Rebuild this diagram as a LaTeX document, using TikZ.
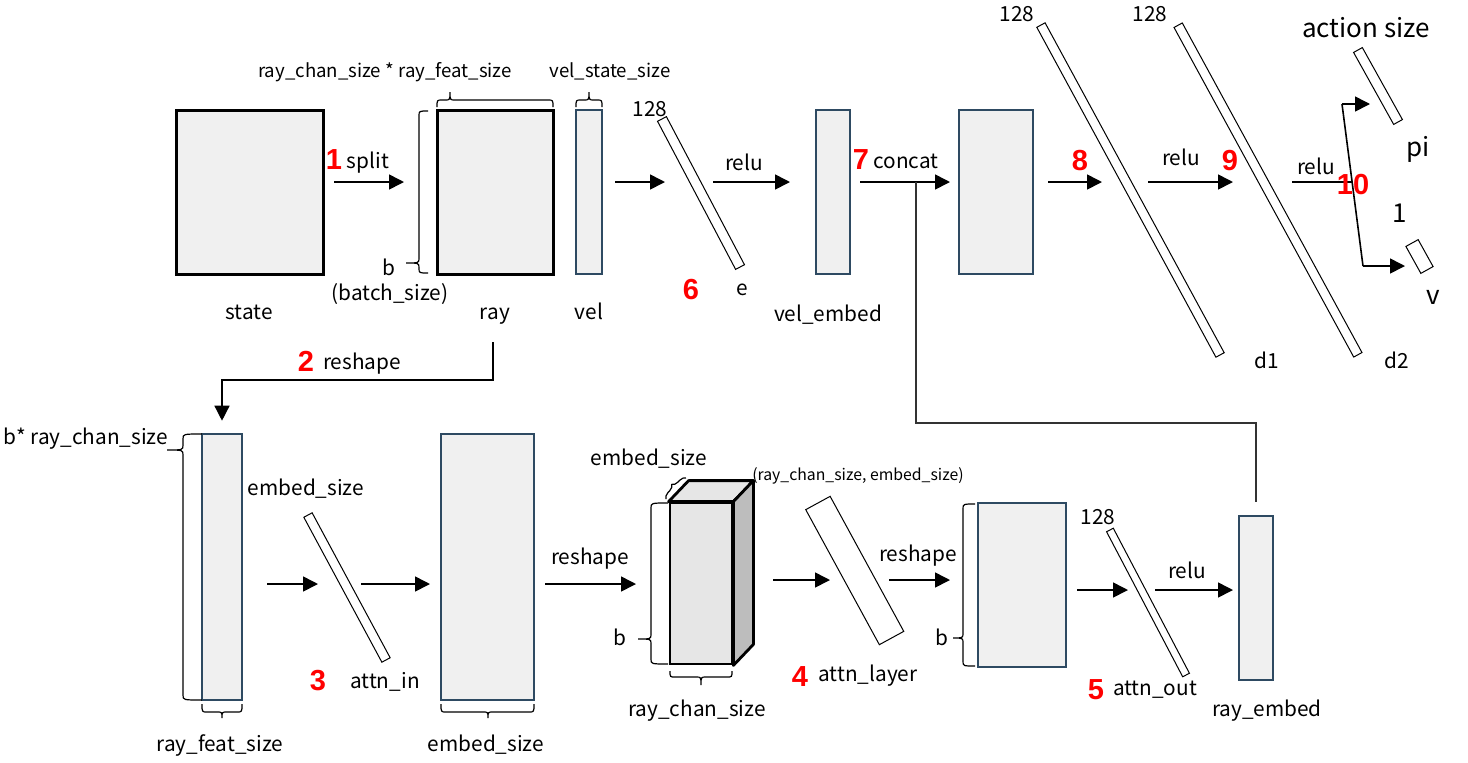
\documentclass[tikz,border=0pt]{standalone}
\usepackage{fontspec}
\setmainfont{Noto Sans CJK SC}
\newfontfamily\numfont{Liberation Sans}
\usetikzlibrary{arrows.meta,decorations.pathreplacing,calc}
\definecolor{boxedge}{HTML}{2E4A62}
\definecolor{boxfill}{HTML}{F0F0F0}
\definecolor{numred}{HTML}{FF0000}
\definecolor{cubefront}{HTML}{E6E6E6}
\definecolor{cubeside}{HTML}{BDBDBD}
% horizontal brace: y0, xleft, xright, arm offset, tip offset, xtip (offsets signed, px, y down)
\newcommand{\HBrc}[6]{%
  \draw[brc] ({#2},{#1}) .. controls ({#2},{#1+#4}) .. ({#2+5},{#1+#4}) -- ({#6-5},{#1+#4})
    .. controls ({#6},{#1+#4}) .. ({#6},{#1+#5}) .. controls ({#6},{#1+#4}) .. ({#6+5},{#1+#4})
    -- ({#3-5},{#1+#4}) .. controls ({#3},{#1+#4}) .. ({#3},{#1});}
% vertical brace: x0, ytop, ybottom, arm offset, tip offset, ytip
\newcommand{\VBrc}[6]{%
  \draw[brc] ({#1},{#2}) .. controls ({#1+#4},{#2}) .. ({#1+#4},{#2+5}) -- ({#1+#4},{#6-5})
    .. controls ({#1+#4},{#6}) .. ({#1+#5},{#6}) .. controls ({#1+#4},{#6}) .. ({#1+#4},{#6+5})
    -- ({#1+#4},{#3-5}) .. controls ({#1+#4},{#3}) .. ({#1},{#3});}
\begin{document}
\begin{tikzpicture}[x=0.5pt,y=-0.5pt,
  blk/.style={draw=black, line width=1.5pt, fill=boxfill, inner sep=0pt},
  sbox/.style={draw=boxedge, line width=1.3pt, fill=boxfill, inner sep=0pt},
  bar/.style={draw=black, line width=0.5pt, fill=white, inner sep=0pt},
  cubef/.style={draw=black, line width=1.4pt, fill=cubefront, inner sep=0pt},
  arr/.style={-{Triangle[length=7.5pt,width=7.5pt]}, line width=0.8pt},
  conn/.style={draw=black!80, line width=0.7pt},
  brc/.style={draw=black, line width=0.6pt},
  lbl/.style={font=\fontsize{10.4pt}{12pt}\selectfont, inner sep=0pt, anchor=mid, yshift=-1.5pt},
  slbl/.style={font=\fontsize{9.3pt}{11pt}\selectfont, inner sep=0pt, anchor=mid, yshift=-1pt},
  blbl/.style={font=\fontsize{13pt}{15pt}\selectfont, inner sep=0pt, anchor=mid, yshift=-1.5pt},
  tlbl/.style={font=\fontsize{7.9pt}{9pt}\selectfont, inner sep=0pt, anchor=mid, yshift=-1pt},
  num/.style={font=\numfont\bfseries\fontsize{14.5pt}{16pt}\selectfont, text=numred, inner sep=0pt, anchor=mid, yshift=-2pt}]
\fill[white] (0,0) rectangle (1468,762);
\useasboundingbox (0,0) rectangle (1468,762);

% ---------- boxes ----------
\node[blk, minimum width=73.5pt, minimum height=82pt] (state) at (249.5,192) {};
\node[blk, minimum width=58pt, minimum height=82pt] (ray) at (495,192) {};
\node[sbox, minimum width=13pt, minimum height=82pt] (vel) at (589,192) {};
\node[sbox, minimum width=17pt, minimum height=82pt] (velemb) at (833,192) {};
\node[sbox, minimum width=37pt, minimum height=82pt] (cat) at (996,192) {};
\node[sbox, minimum width=20pt, minimum height=133pt] (rf) at (222,567) {};
\node[sbox, minimum width=46.5pt, minimum height=133pt] (emb) at (487.5,567) {};
\node[sbox, minimum width=44pt, minimum height=82pt] (ab) at (1022,585) {};
\node[sbox, minimum width=17pt, minimum height=82pt] (rayemb) at (1256,598) {};

% 3D block
\node[cubef, minimum width=31pt, minimum height=80.5pt] (cube) at (701,583.5) {};
\filldraw[draw=black, line width=1.4pt, line join=round, fill=cubefront] (cube.north west) -- ++(20,-21) -- ($(cube.north east)+(20,-21)$) -- (cube.north east) -- cycle;
\filldraw[draw=black, line width=1.4pt, line join=round, fill=cubeside] (cube.north east) -- ++(20,-21) -- ($(cube.south east)+(20,-21)$) -- (cube.south east) -- cycle;

% ---------- slanted layers ----------
\node[bar, minimum width=83.7pt, minimum height=5pt, rotate=-62.2] (eL) at (701,193) {};
\node[bar, minimum width=187.7pt, minimum height=4.7pt, rotate=-61.5] (d1) at (1130.5,190) {};
\node[bar, minimum width=187.7pt, minimum height=4.7pt, rotate=-61.4] (d2) at (1268,190) {};
\node[bar, minimum width=41.2pt, minimum height=5pt, rotate=-60.9] (piL) at (1378,86) {};
\node[bar, minimum width=15.4pt, minimum height=7pt, rotate=-61] (vL) at (1419.5,256.5) {};
\node[bar, minimum width=82.3pt, minimum height=4.7pt, rotate=-61.7] (ain) at (347,587.5) {};
\node[bar, minimum width=76.9pt, minimum height=13.9pt, rotate=-61.4] (alay) at (854.75,570.5) {};
\node[bar, minimum width=81.9pt, minimum height=3.8pt, rotate=-62.3] (aout) at (1148,602.5) {};

% ---------- arrow end points ----------
\coordinate (a1s) at (334,182);  \coordinate (a1e) at (404,182);
\coordinate (a2s) at (615,182);  \coordinate (a2e) at (665,182);
\coordinate (a3s) at (713,182);  \coordinate (a3e) at (790,182);
\coordinate (a4s) at (860,182);  \coordinate (a4e) at (950,182);
\coordinate (cb)  at (916,182);
\coordinate (a5s) at (1048,182); \coordinate (a5e) at (1102,182);
\coordinate (a6s) at (1148,182); \coordinate (a6e) at (1233,182);
\coordinate (a7s) at (1292,182); \coordinate (fk)  at (1352,182);
\coordinate (fkt) at (1342,104); \coordinate (fkb) at (1363,266);
\coordinate (pit) at (1370,104); \coordinate (vt)  at (1405,266);
\coordinate (r2s) at (493,342);
\coordinate (b1s) at (267,584);  \coordinate (b1e) at (318,584);
\coordinate (b2s) at (361,584);  \coordinate (b2e) at (430,584);
\coordinate (b3s) at (545,584);  \coordinate (b3e) at (636,584);
\coordinate (b4s) at (773,580);  \coordinate (b4e) at (830,580);
\coordinate (b5s) at (889,580);  \coordinate (b5e) at (950,580);
\coordinate (b6s) at (1077,590); \coordinate (b6e) at (1128,590);
\coordinate (b7s) at (1155,590); \coordinate (b7e) at (1233,590);

% ---------- arrows ----------
\draw[arr] (a1s) -- (a1e);
\draw[arr] (a2s) -- (a2e);
\draw[arr] (a3s) -- (a3e);
\draw[arr] (a4s) -- (a4e);
\draw[conn] (cb) -- (916,423) -| ([yshift=6.5pt]rayemb.north);
\draw[arr] (a5s) -- (a5e);
\draw[arr] (a6s) -- (a6e);
\draw[line width=0.8pt] (a7s) -- (fk);
\draw[line width=0.8pt] (fkt) -- (fkb);
\draw[arr] (fkt) -- (pit);
\draw[arr] (fkb) -- (vt);
\draw[arr, line width=0.7pt] (r2s) -- (493,380) -| ([yshift=6pt]rf.north);
\draw[arr] (b1s) -- (b1e);
\draw[arr] (b2s) -- (b2e);
\draw[arr] (b3s) -- (b3e);
\draw[arr] (b4s) -- (b4e);
\draw[arr] (b5s) -- (b5e);
\draw[arr] (b6s) -- (b6e);
\draw[arr] (b7s) -- (b7e);

% ---------- braces ----------
\HBrc{107}{437}{553}{-7}{-15}{450}
\HBrc{107}{576}{602}{-7}{-15}{589}
\VBrc{428}{111}{273}{-9}{-22}{263}
\VBrc{202}{434}{700}{-19}{-35}{450}
\HBrc{704}{202}{242}{8}{14}{222}
\HBrc{704}{441}{534}{8}{14}{488}
\VBrc{668}{503}{664}{-17}{-30}{639}
\HBrc{671}{670}{732}{6}{14}{701}
\VBrc{975}{504}{666}{-12}{-22}{638}
\draw[brc, decorate, decoration={brace, amplitude=3pt}] (666,499) -- (686,478);

% ---------- labels ----------
\node[slbl] (tRCF) at (385,70) {ray\_chan\_size * ray\_feat\_size};
\node[slbl] (tVSS) at (610,70) {vel\_state\_size};
\node[num] (n1) at (334,160) {1};
\node[lbl] (tSplit) at (368,160) {split};
\node[lbl] (tb1) at (389,267) {b};
\node[lbl] (tBatch) at (390,292) {(batch\_size)};
\node[lbl] (tState) at (249,311) {state};
\node[lbl] (tRay) at (495,311) {ray};
\node[lbl] (tVel) at (589,311) {vel};
\node[lbl] (t128a) at (650,108) {128};
\node[num] (n6) at (691,290) {6};
\node[lbl] (tE) at (742,287) {e};
\node[lbl] (tRelu1) at (744,162) {relu};
\node[lbl] (tVelEmb) at (828,313) {vel\_embed};
\node[num] (n7) at (861,160) {7};
\node[lbl] (tConcat) at (906,160) {concat};
\node[lbl] (t128b) at (1017,13) {128};
\node[lbl] (t128c) at (1150,13) {128};
\node[num] (n8) at (1080,161) {8};
\node[lbl] (tRelu2) at (1181,157) {relu};
\node[num] (n9) at (1230,161) {9};
\node[lbl] (tRelu3) at (1316,166) {relu};
\node[num] (n10) at (1353,185) {10};
\node[blbl] (tAct) at (1366,29) {action size};
\node[blbl] (tPi) at (1418,148) {pi};
\node[blbl] (tOne) at (1400,214) {1};
\node[blbl] (tV) at (1433,296) {v};
\node[lbl] (tD1) at (1267,360) {d1};
\node[lbl] (tD2) at (1397,360) {d2};
\node[num] (n2) at (306,362) {2};
\node[lbl] (tReshape1) at (362,361) {reshape};
\node[lbl] (tBRC) at (86,436) {b* ray\_chan\_size};
\node[lbl] (tEmbA) at (306,487) {embed\_size};
\node[num] (n3) at (318,681) {3};
\node[lbl] (tAttnIn) at (385,680) {attn\_in};
\node[lbl] (tRFS) at (220,743) {ray\_feat\_size};
\node[lbl] (tEmbB) at (486,743) {embed\_size};
\node[lbl] (tReshape2) at (590,556) {reshape};
\node[lbl] (tEmbC) at (649,457) {embed\_size};
\node[tlbl] (tShape) at (858,473) {(ray\_chan\_size, embed\_size)};
\node[lbl] (tb2) at (620,637) {b};
\node[lbl] (tRCS) at (697,708) {ray\_chan\_size};
\node[num] (n4) at (800,677) {4};
\node[lbl] (tAttnLayer) at (868,673) {attn\_layer};
\node[lbl] (tReshape3) at (918,553) {reshape};
\node[lbl] (tb3) at (942,637) {b};
\node[lbl] (t128d) at (1098,516) {128};
\node[num] (n5) at (1096,690) {5};
\node[lbl] (tAttnOut) at (1155,687) {attn\_out};
\node[lbl] (tRelu4) at (1187,570) {relu};
\node[lbl] (tRayEmb) at (1267,708) {ray\_embed};
\end{tikzpicture}
\end{document}
